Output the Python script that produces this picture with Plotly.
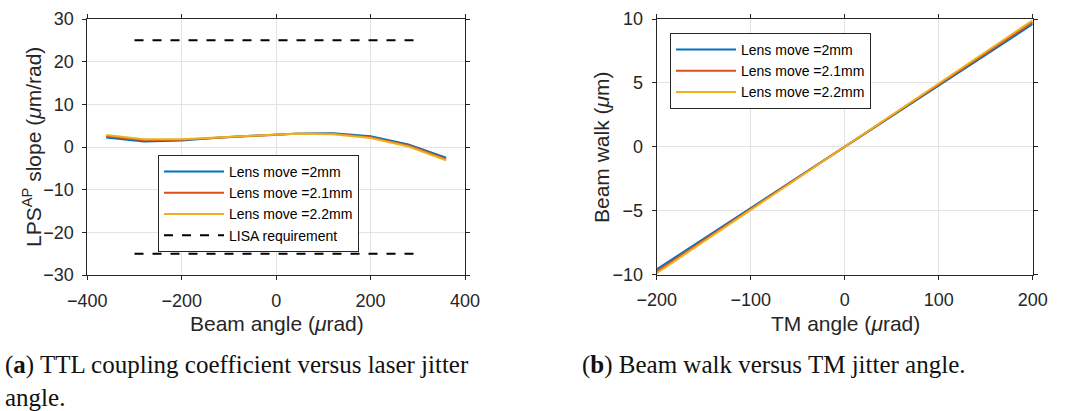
import plotly.graph_objects as go

# ---- data: left panel ----
beam_angle = [-360, -280, -200, -120, -40, 40, 120, 200, 280, 360]
lps_2mm = [2.2, 1.3, 1.5, 2.2, 2.7, 3.1, 3.2, 2.5, 0.6, -2.5]
lps_21mm = [2.5, 1.6, 1.7, 2.2, 2.7, 3.1, 3.1, 2.3, 0.35, -2.8]
lps_22mm = [2.8, 1.8, 1.8, 2.3, 2.7, 3.1, 3.0, 2.1, 0.1, -3.1]
lisa_x = [-300, 300]
lisa_level = 25

# ---- data: right panel ----
tm_angle = [-200, -100, 0, 100, 200]
walk_2mm = [-9.6, -4.8, 0, 4.8, 9.6]
walk_21mm = [-9.75, -4.88, 0, 4.88, 9.75]
walk_22mm = [-9.9, -4.95, 0, 4.95, 9.9]

names = ["Lens move =2mm", "Lens move =2.1mm", "Lens move =2.2mm"]
colors = ["#0072BD", "#D95319", "#EDB120"]
TXT = "#262626"
FONT = "Liberation Sans"

fig = go.Figure()
for ys, nm, c in zip([lps_2mm, lps_21mm, lps_22mm], names, colors):
    fig.add_trace(go.Scatter(x=beam_angle, y=ys, name=nm, mode="lines",
                             line=dict(color=c, width=2), xaxis="x", yaxis="y", legend="legend"))
fig.add_trace(go.Scatter(x=lisa_x + [None] + lisa_x,
                         y=[lisa_level] * 2 + [None] + [-lisa_level] * 2,
                         name="LISA requirement", mode="lines",
                         line=dict(color="black", width=2, dash="dash"),
                         xaxis="x", yaxis="y", legend="legend"))
for ys, nm, c in zip([walk_2mm, walk_21mm, walk_22mm], names, colors):
    fig.add_trace(go.Scatter(x=tm_angle, y=ys, name=nm, mode="lines",
                             line=dict(color=c, width=2), xaxis="x2", yaxis="y2", legend="legend2"))

W, H = 1072, 411
def px(v): return v / W
def py(v): return 1 - v / H

axis_common = dict(showline=True, linecolor=TXT, linewidth=1, mirror="ticks",
                   ticks="outside", ticklen=4, tickcolor=TXT, showgrid=True,
                   gridcolor="#e3e3e3", gridwidth=1, zeroline=False, automargin=False,
                   ticklabelstandoff=5,
                   tickfont=dict(family=FONT, size=18, color=TXT))

leg_common = dict(xanchor="left", yanchor="top", bgcolor="white", bordercolor=TXT,
                  borderwidth=1, itemwidth=60, tracegroupgap=0,
                  font=dict(family=FONT, size=14, color="#000000"))

fig.update_layout(
    width=W, height=H, margin=dict(l=0, r=0, t=0, b=0, autoexpand=False),
    paper_bgcolor="white", plot_bgcolor="white",
    font=dict(family=FONT, color=TXT),
    xaxis=dict(domain=[px(87.3), px(465)], range=[-400, 400], tickvals=[-400, -200, 0, 200, 400],
               anchor="y", **axis_common),
    yaxis=dict(domain=[py(275), py(19)], range=[-30, 30], tickvals=[-30, -20, -10, 0, 10, 20, 30],
               anchor="x", **axis_common),
    xaxis2=dict(domain=[px(656.7), px(1032.7)], range=[-200, 200], tickvals=[-200, -100, 0, 100, 200],
                anchor="y2", **axis_common),
    yaxis2=dict(domain=[py(274.5), py(19)], range=[-10, 10], tickvals=[-10, -5, 0, 5, 10],
                anchor="x2", **axis_common),
    legend=dict(x=px(158), y=py(155), **leg_common),
    legend2=dict(x=px(670), y=py(33), **leg_common),
)

ann = [
    dict(text="Beam angle (<i>μ</i>rad)", x=px(276.5), y=py(323)),
    dict(text="LPS<sup>AP</sup> slope (<i>μ</i>m/rad)", x=px(32), y=py(147), textangle=-90),
    dict(text="TM angle (<i>μ</i>rad)", x=px(845), y=py(323)),
    dict(text="Beam walk (<i>μ</i>m)", x=px(601), y=py(147), textangle=-90),
]
annotations = []
for a in ann:
    d = dict(xref="paper", yref="paper", showarrow=False, xanchor="center", yanchor="middle",
             font=dict(family=FONT, size=21, color=TXT))
    d.update(a)
    annotations.append(d)

cap_font = dict(family="Liberation Serif", size=25, color="#111111")
annotations.append(dict(text="(<b>a</b>) TTL coupling coefficient versus laser jitter<br>angle.",
                        xref="paper", yref="paper", x=px(3), y=py(381), xanchor="left", yanchor="middle",
                        align="left", showarrow=False, font=cap_font))
annotations.append(dict(text="(<b>b</b>) Beam walk versus TM jitter angle.",
                        xref="paper", yref="paper", x=px(580), y=py(365), xanchor="left", yanchor="middle",
                        align="left", showarrow=False, font=cap_font))
fig.update_layout(annotations=annotations)

fig.write_html("out.html")
